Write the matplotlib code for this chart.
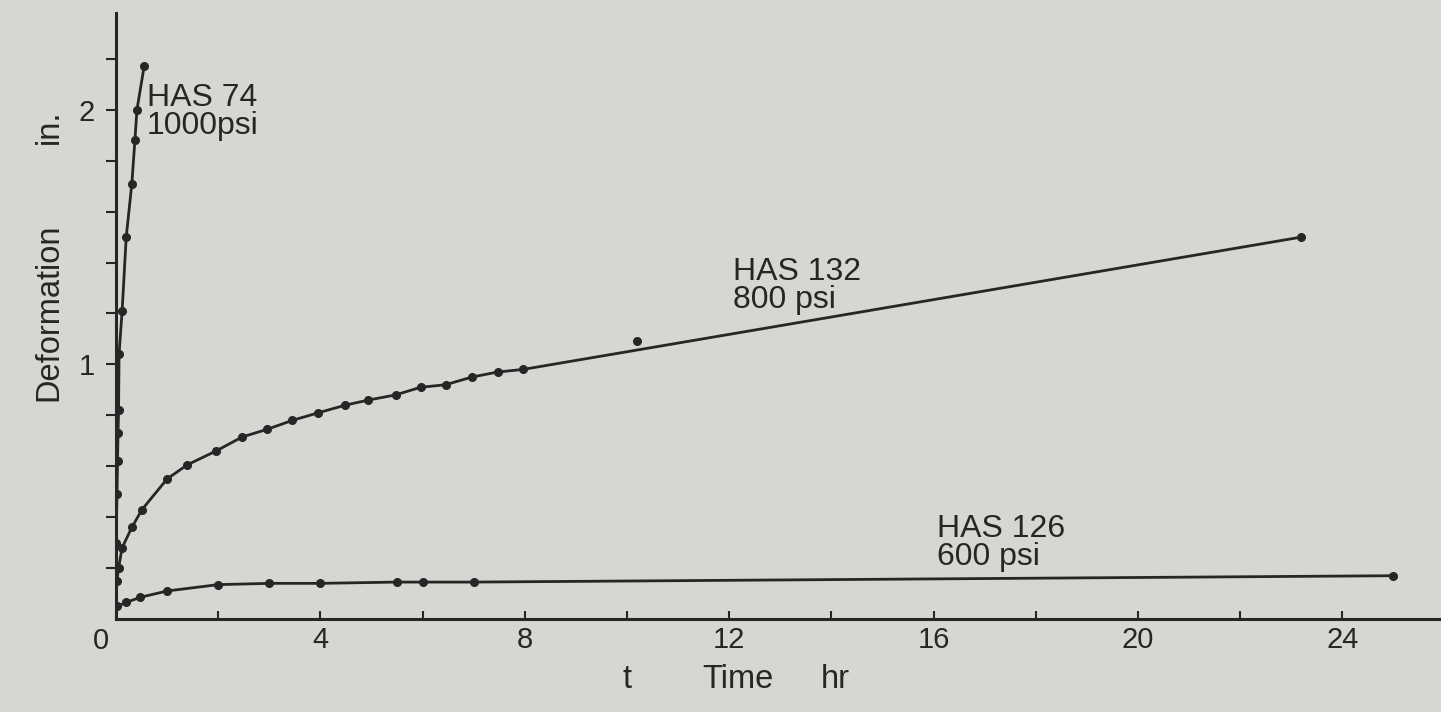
"""
Creep deformation vs time for three HAS specimens (scanned chart redraw).
"""

import matplotlib
import matplotlib.pyplot as plt
import matplotlib.ticker as mticker

matplotlib.use("Agg")

# --- data -------------------------------------------------------------------
HAS74_T = [0.0, 0.02, 0.03, 0.04, 0.05, 0.06, 0.12, 0.20, 0.31, 0.37, 0.41, 0.55]
HAS74_D = [0.30, 0.49, 0.62, 0.73, 0.82, 1.04, 1.21, 1.50, 1.71, 1.88, 2.00, 2.17]

HAS132_T = [0.02, 0.05, 0.12, 0.31, 0.51, 1.00, 1.39, 1.96, 2.47, 2.96, 3.45,
            3.96, 4.49, 4.94, 5.47, 5.96, 6.45, 6.96, 7.47, 7.96, 23.2]
HAS132_D = [0.15, 0.20, 0.28, 0.36, 0.43, 0.55, 0.605, 0.66, 0.715, 0.745, 0.78,
            0.81, 0.84, 0.86, 0.88, 0.91, 0.92, 0.95, 0.97, 0.98, 1.50]
# stray reading that sits off the drawn curve
HAS132_STRAY_T = [10.2]
HAS132_STRAY_D = [1.09]

HAS126_T = [0.02, 0.20, 0.47, 1.00, 2.00, 3.00, 4.00, 5.49, 6.00, 7.00, 25.0]
HAS126_D = [0.05, 0.065, 0.085, 0.11, 0.135, 0.14, 0.14, 0.145, 0.145, 0.145, 0.17]

X_TICKS = [0, 2, 4, 6, 8, 10, 12, 14, 16, 18, 20, 22, 24]
X_LABELS = ["", "", "4", "", "8", "", "12", "", "16", "", "20", "", "24"]
Y_TICKS = [0.2, 0.4, 0.6, 0.8, 1.0, 1.2, 1.4, 1.6, 1.8, 2.0, 2.2]
Y_LABELS = ["", "", "", "", "1", "", "", "", "", "2", ""]

INK = "#262626"
PAPER = "#d6d6d2"
FONT = ["Liberation Sans", "DejaVu Sans"]

fig = plt.figure(figsize=(14.41, 7.12), dpi=100, facecolor=PAPER)
W, H = 1441.0, 712.0
ax = fig.add_axes([116 / W, 1 - 619 / H, (W - 116) / W, (619 - 13) / H])
ax.set_facecolor(PAPER)
ax.set_xlim(0, 25.93)
ax.set_ylim(0, 2.38)

line_kw = dict(color=INK, linewidth=2.0, marker="o", markersize=5.5,
               markerfacecolor=INK, markeredgecolor=INK)
ax.plot(HAS74_T, HAS74_D, **line_kw)
ax.plot(HAS132_T, HAS132_D, **line_kw)
ax.plot(HAS126_T, HAS126_D, **line_kw)
ax.plot(HAS132_STRAY_T, HAS132_STRAY_D, linestyle="none", marker="o",
        markersize=5.5, color=INK)

for side in ("top", "right"):
    ax.spines[side].set_visible(False)
for side in ("left", "bottom"):
    ax.spines[side].set_color(INK)
    ax.spines[side].set_linewidth(2.2)

ax.xaxis.set_major_locator(mticker.FixedLocator(X_TICKS))
ax.xaxis.set_major_formatter(mticker.FixedFormatter(X_LABELS))
ax.yaxis.set_major_locator(mticker.FixedLocator(Y_TICKS))
ax.yaxis.set_major_formatter(mticker.FixedFormatter(Y_LABELS))
ax.tick_params(axis="x", direction="in", length=6, width=1.5, color=INK,
               pad=5, labelsize=21, labelcolor=INK)
ax.tick_params(axis="y", direction="out", length=7, width=1.5, color=INK,
               pad=8, labelsize=21, labelcolor=INK)
for lab in ax.get_xticklabels() + ax.get_yticklabels():
    lab.set_family(FONT)

# origin label sits left of the corner
ax.annotate("0", xy=(0, 0), xycoords="data", xytext=(-10.5, -6),
            textcoords="offset points", ha="center", va="top",
            fontsize=21, color=INK, family=FONT)

# axis titles
title_kw = dict(fontsize=23.5, color=INK, family=FONT, ha="center", va="center")
fig.text(49 / W, 1 - 312 / H, "Deformation", rotation=90, **title_kw)
fig.text(49 / W, 1 - 127 / H, "in.", rotation=90, **title_kw)
fig.text(627 / W, 1 - 680 / H, "t", **title_kw)
fig.text(738 / W, 1 - 680 / H, "Time", **title_kw)
fig.text(835 / W, 1 - 680 / H, "hr", **title_kw)

# curve labels
label_kw = dict(fontsize=23, color=INK, family=FONT, ha="left",
                va="center", linespacing=0.92)
fig.text(147 / W, 1 - 112 / H, "HAS 74\n1000psi", **label_kw)
fig.text(733 / W, 1 - 286 / H, "HAS 132\n800 psi", **label_kw)
fig.text(937 / W, 1 - 543 / H, "HAS 126\n600 psi", **label_kw)

fig.savefig("out.png", dpi=100, facecolor=PAPER)
plt.close(fig)
